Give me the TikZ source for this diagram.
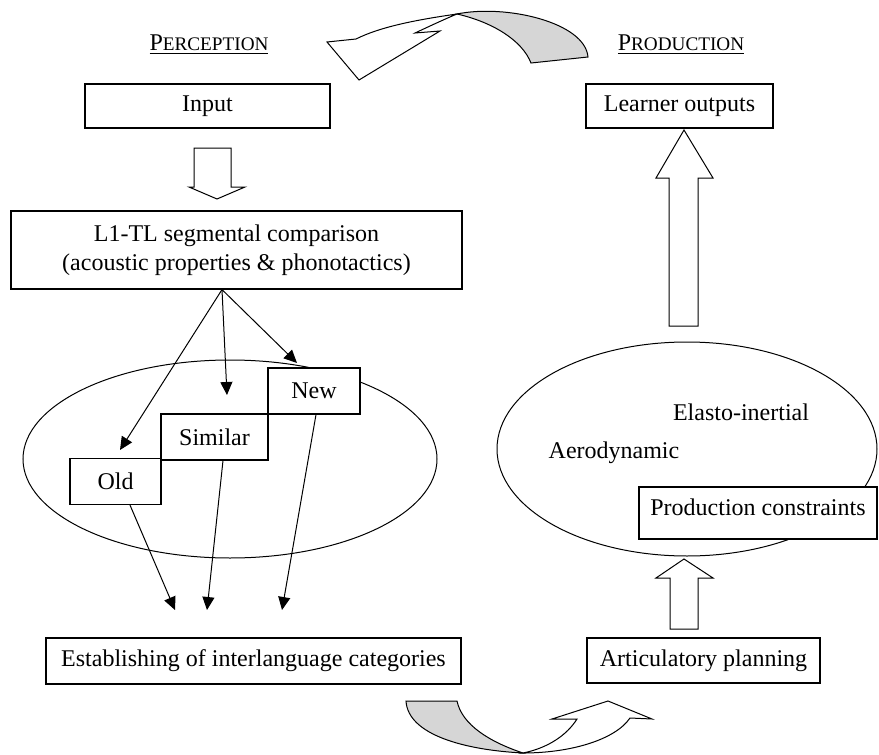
\documentclass[tikz,border=0pt,12pt]{standalone}
\usepackage{fontspec}
\setmainfont{Liberation Serif}
\usetikzlibrary{arrows.meta,shapes.geometric}
\tikzset{
  box/.style={draw, fill=white, line width=0.6pt, inner sep=0pt},
  blockarrow/.style={draw, fill=white, line width=0.5pt, line join=miter},
  ribbon/.style={draw, fill=black!16, line width=0.5pt},
  thinarrow/.style={-{Triangle[length=6.5pt,width=6pt]}, line width=0.5pt},
  oval/.style={draw, ellipse, line width=0.5pt, inner sep=0pt}
}
\newcommand{\headword}[2]{\underline{#1{\fontsize{9.6}{11}\selectfont #2}}}
\begin{document}
\begin{tikzpicture}[x=0.5pt,y=-0.5pt]
    \useasboundingbox (0,0) rectangle (879,755);
    % Titles
    \node (perc) at (209,45) {\headword{P}{ERCEPTION}};
    \node (prod) at (681,45) {\headword{P}{RODUCTION}};
    % Ellipses
    \node[oval, minimum width=207pt, minimum height=99pt] (categ) at (230,459) {};
    \node[oval, minimum width=190pt, minimum height=107pt] (constr) at (687,449) {};
    \node (elasto) at (741,412) {Elasto-inertial};
    \node (aero) at (614,453) {Aerodynamic};
    % Perception side
    \node[box, minimum width=122.5pt, minimum height=22pt] (input) at (207.5,106) {Input};
    \node[box, minimum width=225.5pt, minimum height=39pt, align=center] (compare) at (236.5,250)
        {L1-TL segmental comparison\\(acoustic properties \& phonotactics)};
    \node[box, minimum width=46pt, minimum height=23pt] (new) at (314,391) {New};
    \node[box, minimum width=53.5pt, minimum height=23pt] (similar) at (214.5,437) {Similar};
    \node[box, minimum width=45.5pt, minimum height=23pt] (old) at (115.5,481.5) {Old};
    \node[box, minimum width=207.5pt, minimum height=23pt] (establish) at (253.5,661)
        {Establishing of interlanguage categories};
    % Production side
    \node[box, minimum width=93.5pt, minimum height=22pt] (learner) at (679.5,106) {Learner outputs};
    \node[box, minimum width=119pt, minimum height=26pt, text depth=6pt] (limits) at (758,513) {Production constraints};
    \node[box, minimum width=116.5pt, minimum height=22.5pt] (plan) at (703.5,660.5) {Articulatory planning};
    % Fan of arrows
    \coordinate (fan) at ([xshift=-7.25pt]compare.south);
    \coordinate (toold) at (120,450);
    \coordinate (tosim) at (227,395);
    \coordinate (tonew) at (297,363);
    \draw[thinarrow] (fan) -- (toold);
    \draw[thinarrow] (fan) -- (tosim);
    \draw[thinarrow] (fan) -- (tonew);
    \coordinate (catA) at (175,610);
    \coordinate (catB) at (207,610);
    \coordinate (catC) at (282,610);
    \draw[thinarrow] ([xshift=7.25pt]old.south) -- (catA);
    \draw[thinarrow] ([xshift=4.25pt]similar.south) -- (catB);
    \draw[thinarrow] ([xshift=1pt]new.south) -- (catC);
    % Block arrows
    \draw[blockarrow] (194,148) -- (231,148) -- (231,187) -- (245,187) -- (217,199)
        -- (189,187) -- (194,187) -- cycle;
    \draw[blockarrow] (669,326) -- (698,326) -- (698,178) -- (713,178) -- (684,130)
        -- (656,178) -- (669,178) -- cycle;
    \draw[blockarrow] (670,629) -- (698,629) -- (698,578) -- (713,578) -- (684,559)
        -- (656,578) -- (670,578) -- cycle;
    % Curved arrow, top
    \draw[ribbon] (457,14) .. controls (505,4) and (585,22) .. (588,57) -- (531,63)
        .. controls (522,40) and (492,22) .. cycle;
    \draw[blockarrow] (457,14) .. controls (415,20) and (380,27) .. (356,39) -- (327,42)
        -- (359,80) -- (440,31) -- (415,33) .. controls (430,26) and (445,19) .. cycle;
    % Curved arrow, bottom
    \draw[ribbon] (406,701) -- (457,701) .. controls (462,725) and (490,742) .. (523,753)
        .. controls (465,750) and (408,735) .. cycle;
    \draw[blockarrow] (523,753) .. controls (570,753) and (615,740) .. (630,718) -- (652,719)
        -- (608,701) -- (552,719) -- (577,719) .. controls (567,735) and (548,748) .. cycle;
\end{tikzpicture}
\end{document}
